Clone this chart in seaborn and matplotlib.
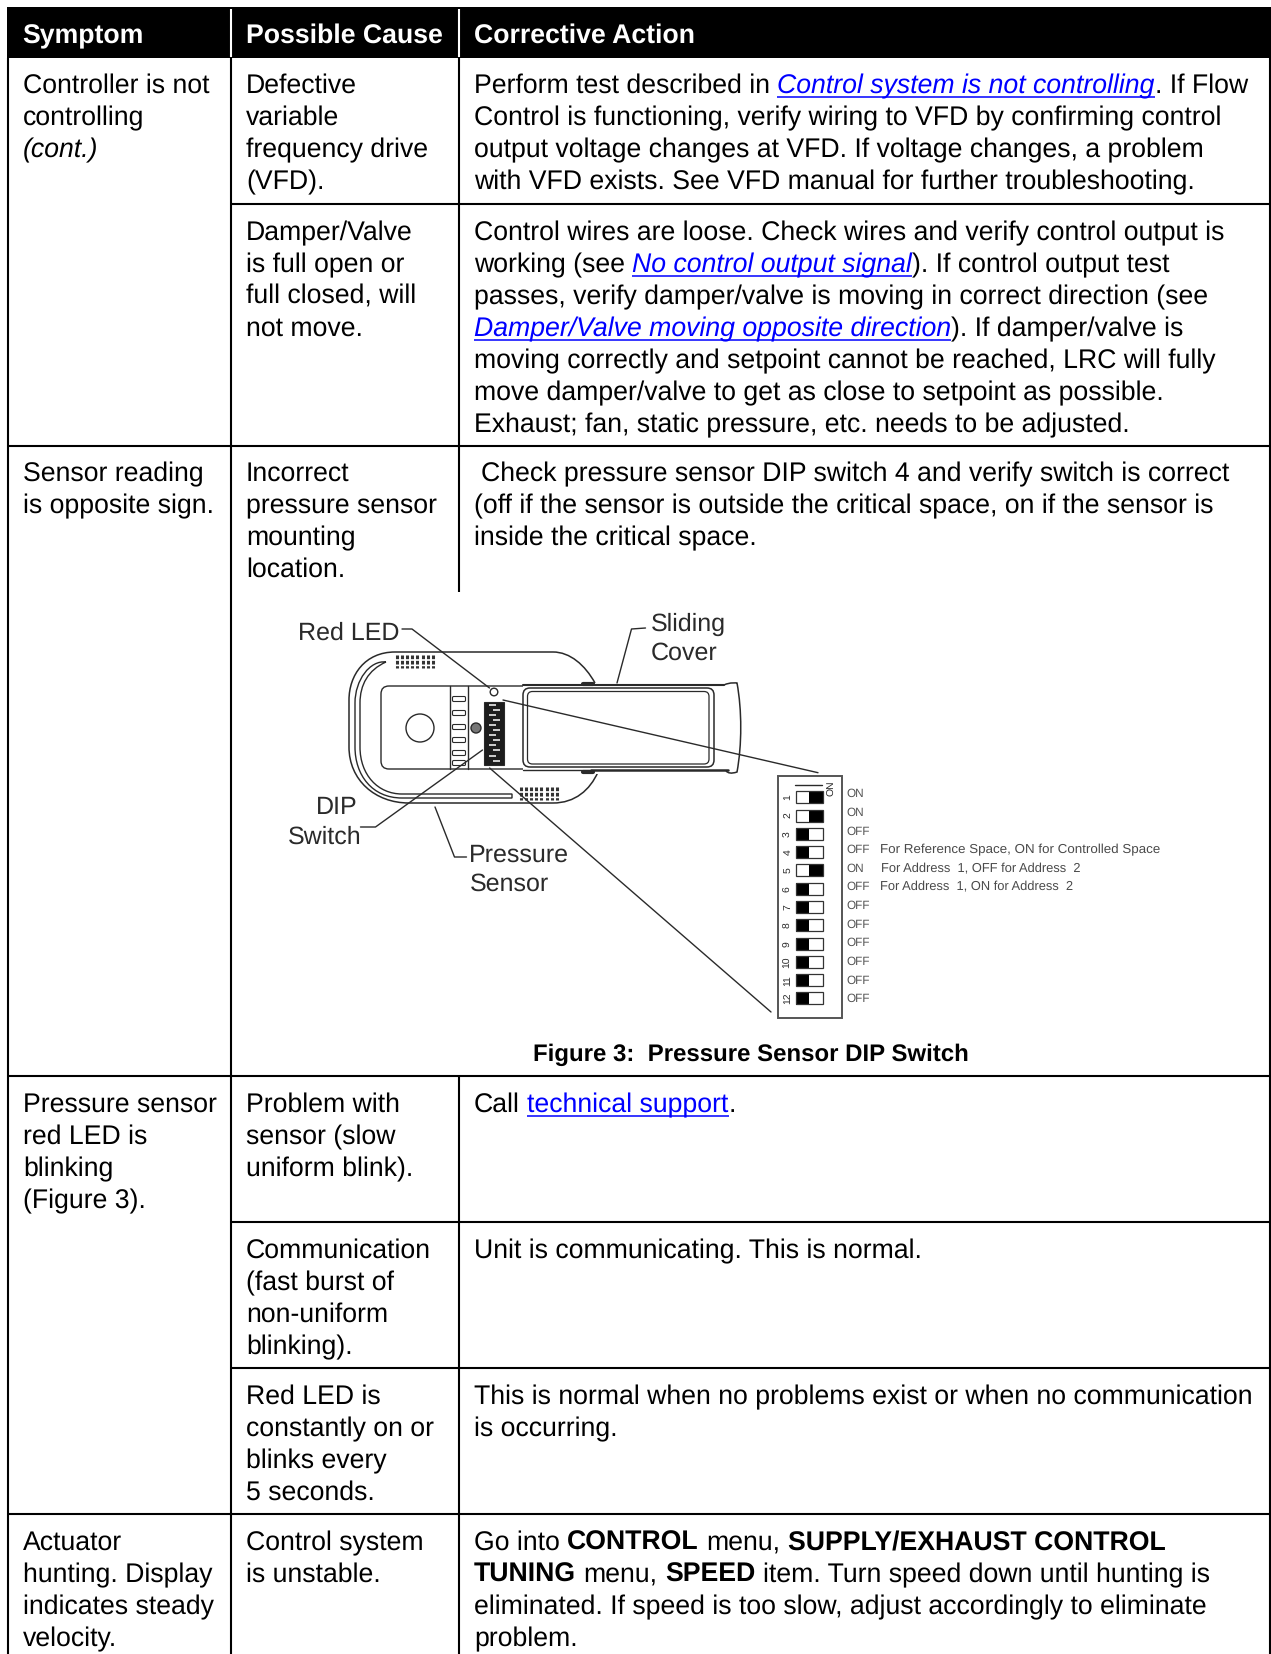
import numpy as np
import matplotlib
matplotlib.use("Agg")
import matplotlib.pyplot as plt
from matplotlib.colors import ListedColormap
from matplotlib.font_manager import FontProperties
from matplotlib.patches import Circle, FancyBboxPatch, PathPatch, Rectangle
from matplotlib.path import Path
import seaborn as sns

# ---------------- table content ----------------
HEADERS = ["Symptom", "Possible Cause", "Corrective Action"]
SYMPTOMS = [
    (93, [("Controller is not", "n"), ("controlling", "n"), ("(cont.)", "i")]),
    (481, [("Sensor reading", "n"), ("is opposite sign.", "n")]),
    (1112, [("Pressure sensor", "n"), ("red LED is", "n"), ("blinking", "n"), ("(Figure 3).", "n")]),
    (1550, [("Actuator", "n"), ("hunting. Display", "n"), ("indicates steady", "n"), ("velocity.", "n")]),
]
CAUSES = [
    (93, ["Defective", "variable", "frequency drive", "(VFD)."]),
    (240, ["Damper/Valve", "is full open or", "full closed, will", "not move."]),
    (481, ["Incorrect", "pressure sensor", "mounting", "location."]),
    (1112, ["Problem with", "sensor (slow", "uniform blink)."]),
    (1258, ["Communication", "(fast burst of", "non-uniform", "blinking)."]),
    (1404, ["Red LED is", "constantly on or", "blinks every", "5 seconds."]),
    (1550, ["Control system", "is unstable."]),
]
ACTIONS = [
    (93, [
        [("Perform test described in ", "n"), ("Control system is not controlling", "il"), (". If Flow", "n")],
        [("Control is functioning, verify wiring to VFD by confirming control", "n")],
        [("output voltage changes at VFD. If voltage changes, a problem", "n")],
        [("with VFD exists. See VFD manual for further troubleshooting.", "n")],
    ]),
    (240, [
        [("Control wires are loose. Check wires and verify control output is", "n")],
        [("working (see ", "n"), ("No control output signal", "il"), ("). If control output test", "n")],
        [("passes, verify damper/valve is moving in correct direction (see", "n")],
        [("Damper/Valve moving opposite direction", "il"), ("). If damper/valve is", "n")],
        [("moving correctly and setpoint cannot be reached, LRC will fully", "n")],
        [("move damper/valve to get as close to setpoint as possible.", "n")],
        [("Exhaust; fan, static pressure, etc. needs to be adjusted.", "n")],
    ]),
    (481, [
        [(" Check pressure sensor DIP switch 4 and verify switch is correct", "n")],
        [("(off if the sensor is outside the critical space, on if the sensor is", "n")],
        [("inside the critical space.", "n")],
    ]),
    (1112, [[("Call ", "n"), ("technical support", "l"), (".", "n")]]),
    (1258, [[("Unit is communicating. This is normal.", "n")]]),
    (1404, [
        [("This is normal when no problems exist or when no communication", "n")],
        [("is occurring.", "n")],
    ]),
    (1550, [
        [("Go into ", "n"), ("CONTROL", "b"), (" menu, ", "n"), ("SUPPLY/EXHAUST CONTROL", "b")],
        [("TUNING", "b"), (" menu, ", "n"), ("SPEED", "b"), (" item. Turn speed down until hunting is", "n")],
        [("eliminated. If speed is too slow, adjust accordingly to eliminate", "n")],
        [("problem.", "n")],
    ]),
]
CAPTION = "Figure 3:  Pressure Sensor DIP Switch"
SWITCH_ON = [1, 1, 0, 0, 1, 0, 0, 0, 0, 0, 0, 0]
SWITCH_TEXT = ["ON", "ON", "OFF", "OFF", "ON", "OFF", "OFF", "OFF", "OFF", "OFF", "OFF", "OFF"]
SWITCH_NOTES = {3: "For Reference Space, ON for Controlled Space",
                4: "For Address  1, OFF for Address  2",
                5: "For Address  1, ON for Address  2"}

# ---------------- figure ----------------
sns.set_theme(style="white", rc={"text.hinting": "no_hinting", "text.hinting_factor": 8})
FONT = "Liberation Sans"
plt.rcParams["font.family"] = [FONT, "DejaVu Sans"]

W, H = 1271, 1654
fig = plt.figure(figsize=(W / 100, H / 100), dpi=100, facecolor="white")
ax = fig.add_axes([0, 0, 1, 1])
ax.set_xlim(0, W)
ax.set_ylim(H, 0)
ax.axis("off")
sns.despine(ax=ax, left=True, bottom=True)

renderer = fig.canvas.get_renderer()
BODY = 19.2
PITCH = 32
LINK = "#0000ff"
STYLES = {"n": dict(), "i": dict(style="italic"), "b": dict(weight="bold"),
          "il": dict(style="italic"), "l": dict()}


def measure(s, **kw):
    fp = FontProperties(family=FONT, size=BODY, **kw)
    a = renderer.get_text_width_height_descent("x" + s + "x", fp, False)[0]
    b = renderer.get_text_width_height_descent("xx", fp, False)[0]
    return a - b


def rich(x, y, segments):
    for s, st in segments:
        kw = STYLES[st]
        col = LINK if st in ("il", "l") else "black"
        w = measure(s, **kw)
        lead = len(s) - len(s.lstrip(" "))
        if s.strip():
            off = measure(" " * lead, **kw) if lead else 0
            ax.text(x + off, y, s.strip(" "), fontsize=BODY, color=col, va="baseline",
                    ha="left", family=FONT, **kw)
        if st in ("il", "l"):
            ax.plot([x, x + w], [y + 4, y + 4], color=LINK, lw=1.1, solid_capstyle="butt")
        x += w


# header band and rules
ax.add_patch(Rectangle((7, 7), W - 7, 51, fc="black", ec="none", zorder=1))
for xh in (231, 459):
    ax.plot([xh, xh], [9, 57], color="white", lw=1.5, solid_capstyle="butt", zorder=2)
RULE = dict(color="black", lw=1.5, solid_capstyle="butt", zorder=2)
for xv, y0, y1 in [(8, 58, H), (231, 58, H), (459, 58, 592), (459, 1076, H), (1270, 58, H)]:
    ax.plot([xv, xv], [y0, y1], **RULE)
for yh, x0 in [(204, 231), (446, 8), (1076, 8), (1221.5, 231), (1368, 231), (1514, 8)]:
    ax.plot([x0, 1270], [yh, yh], **RULE)

TX = [23, 246, 474]
for x, h in zip([22.5, 246, 474], HEADERS):
    ax.text(x, 43, h, fontsize=BODY, weight="bold", color="white", va="baseline", family=FONT, zorder=3)
for y0, lines in SYMPTOMS:
    for i, (s, st) in enumerate(lines):
        rich(TX[0], y0 + i * PITCH, [(s, st)])
for y0, lines in CAUSES:
    for i, s in enumerate(lines):
        rich(TX[1], y0 + i * PITCH, [(s, "n")])
for y0, lines in ACTIONS:
    for i, segs in enumerate(lines):
        rich(TX[2], y0 + i * PITCH, segs)

ax.text(533, 1061, CAPTION, fontsize=17.3, weight="bold", color="black", va="baseline", family=FONT)

# ---------------- schematic ----------------
INK = "#2a2a2a"
LBL = "#2a2a2a"


def poly(pts, lw=1.0, color=INK):
    p = np.array(pts, float)
    ax.plot(p[:, 0], p[:, 1], color=color, lw=lw, solid_joinstyle="round", solid_capstyle="round")


def curve(verts, codes, lw=1.0):
    ax.add_patch(PathPatch(Path(verts, codes), fc="none", ec=INK, lw=lw))


def rrect(x0, y0, x1, y1, r, lw=1.0, fc="none"):
    ax.add_patch(FancyBboxPatch((x0 + r, y0 + r), x1 - x0 - 2 * r, y1 - y0 - 2 * r,
                                boxstyle=f"round,pad={r},rounding_size={r}", fc=fc, ec=INK, lw=lw))


M, L, C = Path.MOVETO, Path.LINETO, Path.CURVE4
# outer body
curve([(595, 683), (585, 665), (570, 652), (553, 652), (395, 652), (365, 652), (349, 675), (349, 700),
       (349, 747), (349, 780), (375, 803), (409, 803), (553, 803), (575, 803), (590, 790), (598, 772)],
      [M, C, C, C, L, C, C, C, L, C, C, C, L, C, C, C], lw=1.1)
# groove
curve([(386, 662), (368, 670), (360, 685), (360, 703), (360, 747), (360, 775), (378, 794), (402, 794),
       (512, 794), (512, 798), (402, 798), (372, 798), (355, 775), (355, 747), (355, 703), (355, 680),
       (370, 660), (386, 662)],
      [M, C, C, C, L, C, C, C, L, L, L, C, C, C, L, C, C, C], lw=1.0)
# inner panel
rrect(381, 686, 535, 769, 8, lw=1.0)
ax.add_patch(Rectangle((523, 684), 205, 90, fc="white", ec="none", zorder=1))
poly([(450, 686), (450, 769)])
poly([(468, 686), (468, 769)])
for yr in (699, 713, 727, 740, 753, 763):
    rrect(452.5, yr - 2.5, 465.5, yr + 2.5, 1.2, lw=0.8)
ax.add_patch(Circle((420, 728), 14, fc="none", ec=INK, lw=1.0))
ax.add_patch(Circle((476, 728), 5, fc="#777777", ec=INK, lw=1.0))
# DIP chip
ax.add_patch(Rectangle((484, 702), 20, 63, fc="#1c1c1c", ec=INK, lw=0.8))
for k in range(12):
    ax.add_patch(Rectangle((489 + (k % 2) * 4, 703.5 + k * 5.1), 7, 2, fc="#c8c8c8", ec="none"))
ax.add_patch(Circle((494, 692), 3.8, fc="white", ec=INK, lw=1.0))
# slider
rrect(523, 688, 714, 767, 7, lw=1.1)
rrect(527.5, 691.5, 709, 764, 5, lw=0.9)
poly([(523, 685), (724, 685)], lw=1.5)
poly([(583, 684), (593, 684)], lw=3)
poly([(583, 772), (593, 772)], lw=3)
poly([(523, 769.5), (591, 769.5)], lw=1.0)
poly([(591, 770), (728, 770)], lw=1.8)
curve([(724, 685), (730, 682), (737, 683), (737, 683), (742, 710), (742, 745), (737, 772), (731, 774),
       (728, 773), (726, 771)], [M, C, C, C, C, C, C, C, C, C], lw=1.1)
# grilles
for gx, gy in [(395, 655), (519, 787)]:
    for i in range(8):
        ax.plot([gx + 2 + i * 5.1] * 2, [gy, gy + 13], color="#333333", lw=2.2,
                dashes=(1.2, 0.55), solid_capstyle="butt")
# leaders
poly([(402, 629), (412, 629), (489.5, 688)])
poly([(645.5, 628), (631.5, 629), (617, 683)])
poly([(360.5, 827), (375.5, 827), (482.5, 750)])
poly([(466.5, 857), (454.5, 857), (435, 807)])
poly([(503, 700), (818, 772.7)])
poly([(489.6, 768), (771, 1012)])
# labels
for x, y, s in [(298, 640, "Red LED"), (651, 631, "Sliding"), (651, 660, "Cover"), (316, 814, "DIP"),
                (288, 844, "Switch"), (468.5, 862, "Pressure"), (470, 891, "Sensor")]:
    ax.text(x, y, s, fontsize=18.0, color=LBL, va="baseline", family=FONT)

# DIP switch block: the two-position states as a seaborn heatmap with blank spacer rows
ax.add_patch(Rectangle((778, 776), 64, 242, fc="none", ec="#555555", lw=1.4))
row_y = 797.3 + 18.29 * np.arange(len(SWITCH_ON))
rows = []
for on in SWITCH_ON:
    cells = [0, 1] if on else [1, 0]
    rows += [cells, cells, [np.nan, np.nan]]
inset = fig.add_axes([796 / W, 1 - (row_y[0] - 6 + 18.29 * 12) / H, 26.5 / W, 18.29 * 12 / H])
sns.heatmap(np.array(rows, float), ax=inset, cmap=ListedColormap(["white", "black"]), vmin=0, vmax=1,
            cbar=False, xticklabels=False, yticklabels=False)
inset.set_zorder(-1)
for i, yc in enumerate(row_y):
    ax.add_patch(Rectangle((796, yc - 6), 26.5, 12, fc="none", ec="#333333", lw=0.9, zorder=5))
    ax.text(788, yc, str(i + 1), fontsize=7.5, rotation=90, ha="center", va="center", color=LBL, family=FONT)
    yt = 794 + 18.64 * i
    ax.text(846.5, yt, SWITCH_TEXT[i], fontsize=8.5, ha="left", va="center", color="#555555", family=FONT)
    if i in SWITCH_NOTES:
        ax.text(881 if i == 4 else 879.5, yt, SWITCH_NOTES[i], fontsize=9.6 if i == 3 else 9.3,
                ha="left", va="center", color="#4a4a4a", family=FONT)
ax.text(832, 788, "ON", fontsize=7.5, rotation=90, ha="center", va="center", color=LBL, family=FONT)
poly([(795, 785), (822, 785)], lw=1.0)

fig.savefig("out.png", dpi=100, facecolor="white")
